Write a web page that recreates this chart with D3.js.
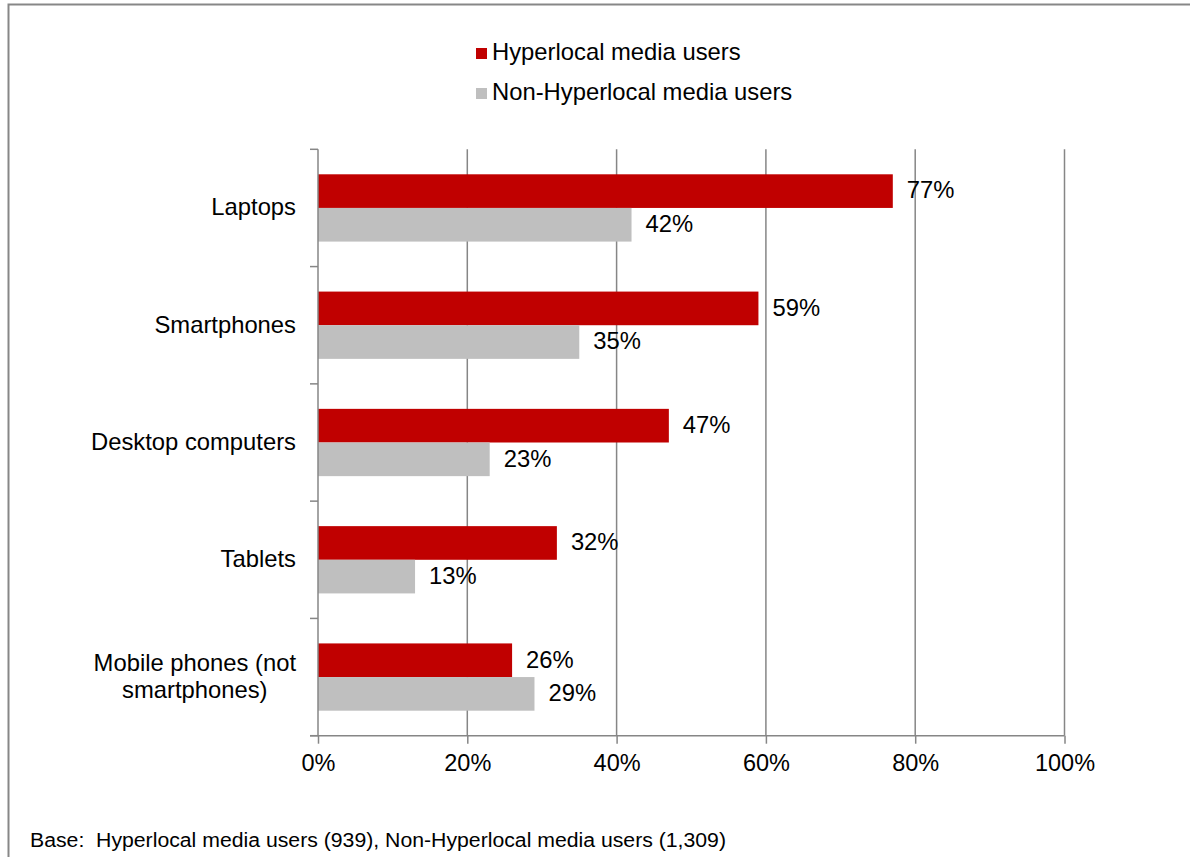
<!DOCTYPE html>
<html>
<head>
<meta charset="utf-8">
<script src="https://cdn.jsdelivr.net/npm/d3@7"></script>
<style>
  html, body { margin: 0; padding: 0; background: #fff; }
  svg { display: block; font-family: "Liberation Sans", Arial, sans-serif; }
</style>
</head>
<body>
<svg id="chart" width="1190" height="857"></svg>
<script>
// chart data
const categories = ["Laptops", "Smartphones", "Desktop computers", "Tablets", "Mobile phones (not\nsmartphones)"];
const seriesNames = ["Hyperlocal media users", "Non-Hyperlocal media users"];
const hyperlocal = [77, 59, 47, 32, 26];
const nonHyperlocal = [42, 35, 23, 13, 29];
const xTicks = [0, 20, 40, 60, 80, 100];
const footnote = "Base:  Hyperlocal media users (939), Non-Hyperlocal media users (1,309)";

const colors = ["#C00000", "#BFBFBF"];
const gridColor = "#868686";
const fontSize = 23.8;

const svg = d3.select("#chart");

// outer frame (only top and left edges visible)
svg.append("path")
    .attr("d", "M8.5,857 V4.5 H1190")
    .attr("fill", "none")
    .attr("stroke", "#878787")
    .attr("stroke-width", 2);

const x = d3.scaleLinear().domain([0, 100]).range([318, 1064.5]);
const y0 = d3.scaleBand().domain(categories).range([149.3, 735.7]);
const y1 = d3.scaleBand().domain(seriesNames)
    .range([0, y0.bandwidth()])
    .paddingInner(0)
    .paddingOuter(0.743);

const plotTop = y0.range()[0], plotBottom = y0.range()[1];

// vertical gridlines
svg.append("g").selectAll("line")
    .data(xTicks.filter(t => t > 0))
    .enter().append("line")
    .attr("x1", d => x(d)).attr("x2", d => x(d))
    .attr("y1", plotTop).attr("y2", plotBottom)
    .attr("stroke", gridColor)
    .attr("stroke-width", 1.5);

// bars
const rows = categories.map((c, i) => ({ cat: c, vals: [hyperlocal[i], nonHyperlocal[i]] }));
const groups = svg.append("g").selectAll("g")
    .data(rows)
    .enter().append("g")
    .attr("transform", d => `translate(0,${y0(d.cat)})`);

groups.selectAll("rect")
    .data(d => d.vals.map((v, j) => ({ v, s: seriesNames[j], j })))
    .enter().append("rect")
    .attr("x", x(0))
    .attr("y", d => y1(d.s))
    .attr("width", d => x(d.v) - x(0))
    .attr("height", y1.bandwidth())
    .attr("fill", d => colors[d.j]);

// data labels
groups.selectAll("text")
    .data(d => d.vals.map((v, j) => ({ v, s: seriesNames[j], j })))
    .enter().append("text")
    .attr("x", d => x(d.v) + 14)
    .attr("y", d => y1(d.s) + y1.bandwidth() / 2 + 1)
    .attr("dominant-baseline", "middle")
    .attr("font-size", fontSize)
    .attr("fill", "#000")
    .text(d => d.v + "%");

// left axis line and ticks
const yAxis = svg.append("g").attr("stroke", gridColor).attr("stroke-width", 1.5);
yAxis.append("line")
    .attr("x1", x(0)).attr("x2", x(0))
    .attr("y1", plotTop).attr("y2", plotBottom);
yAxis.selectAll("line.tick")
    .data(categories.map(c => y0(c)).concat([plotBottom]))
    .enter().append("line")
    .attr("class", "tick")
    .attr("x1", x(0) - 8).attr("x2", x(0))
    .attr("y1", d => d).attr("y2", d => d);

// bottom axis
const xAxisG = svg.append("g")
    .attr("transform", `translate(0,${plotBottom})`)
    .call(d3.axisBottom(x).tickValues(xTicks).tickSize(8).tickPadding(11).tickFormat(d => d + "%"));
xAxisG.select(".domain").attr("stroke", gridColor).attr("stroke-width", 1.5)
    .attr("d", `M${x(0) - 8},0H${x(100)}`);
xAxisG.selectAll(".tick line").attr("stroke", gridColor).attr("stroke-width", 1.5);
xAxisG.selectAll(".tick text")
    .attr("font-size", 23.5)
    .attr("font-family", "Liberation Sans, Arial, sans-serif")
    .attr("fill", "#000");

// category labels
const labelRight = 296;
const lineH = 27;
const catLabels = svg.append("g").selectAll("text")
    .data(categories)
    .enter().append("text")
    .attr("font-size", fontSize)
    .attr("fill", "#000");
catLabels.each(function (d) {
    const t = d3.select(this);
    const lines = d.split("\n");
    const cy = y0(d) + y0.bandwidth() / 2 + 1;
    lines.forEach((ln, k) => {
        t.append("tspan")
            .attr("y", cy + (k - (lines.length - 1) / 2) * lineH)
            .attr("dominant-baseline", "middle")
            .text(ln);
    });
    const widths = [];
    t.selectAll("tspan").each(function () { widths.push(this.getComputedTextLength()); });
    const maxW = d3.max(widths);
    t.attr("text-anchor", "middle");
    t.selectAll("tspan").attr("x", labelRight - maxW / 2);
});

// legend
const legend = svg.append("g").selectAll("g")
    .data(seriesNames)
    .enter().append("g")
    .attr("transform", (d, i) => `translate(476,${53 + i * 40})`);
legend.append("rect")
    .attr("x", 0).attr("y", -5)
    .attr("width", 11).attr("height", 11)
    .attr("fill", (d, i) => colors[i]);
legend.append("text")
    .attr("x", 16).attr("y", 1)
    .attr("dominant-baseline", "middle")
    .attr("font-size", fontSize)
    .attr("fill", "#000")
    .text(d => d);

// footnote (narrow font in the original)
svg.append("text")
    .attr("x", 30).attr("y", 847)
    .attr("font-size", 20)
    .attr("textLength", 696)
    .attr("lengthAdjust", "spacingAndGlyphs")
    .style("white-space", "pre")
    .attr("fill", "#000")
    .text(footnote);
</script>
</body>
</html>
